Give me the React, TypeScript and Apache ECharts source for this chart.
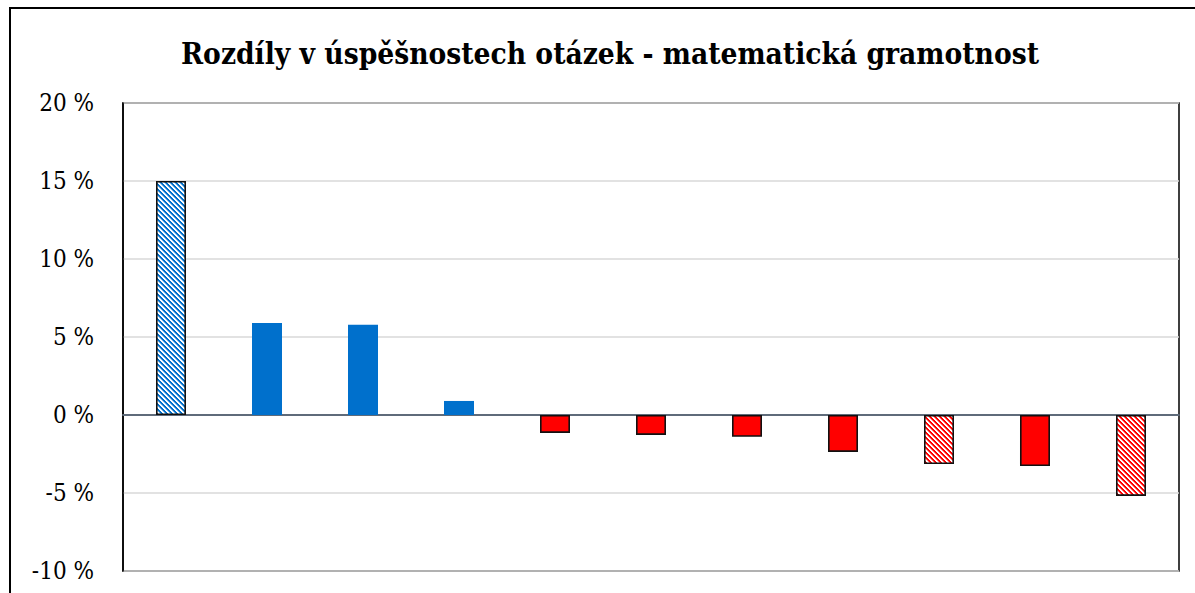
import React, { useEffect, useRef } from "react";
import * as echarts from "echarts";

const categories = ["1", "2", "3", "4", "5", "6", "7", "8", "9", "10", "11"];
const values = [15.0, 5.9, 5.78, 0.9, -1.15, -1.28, -1.4, -2.37, -3.14, -3.27, -5.19];
const hatched = [true, false, false, false, false, false, false, false, true, false, true];
const yMin = -10;
const yMax = 20;
const yStep = 5;
const titleText = "Rozdíly v úspěšnostech otázek - matematická gramotnost";

const BLUE = "#0070CC";
const RED = "#FF0000";
const SERIF = "'DejaVu Serif Condensed', 'DejaVu Serif', serif";

function hexToRgb(h: string) {
  const n = parseInt(h.slice(1), 16);
  return [(n >> 16) & 255, (n >> 8) & 255, n & 255];
}

function makePattern(color: string) {
  const s = 5;
  const c = document.createElement("canvas");
  c.width = s;
  c.height = s;
  const ctx = c.getContext("2d")!;
  const img = ctx.createImageData(s, s);
  const [r, g, b] = hexToRgb(color);
  for (let y = 0; y < s; y++) {
    for (let x = 0; x < s; x++) {
      const d = (((x - y) % s) + s) % s;
      const t = d < 2 ? 1 : d === 2 ? 0.45 : 0;
      const k = (y * s + x) * 4;
      img.data[k] = Math.round(r + (255 - r) * t);
      img.data[k + 1] = Math.round(g + (255 - g) * t);
      img.data[k + 2] = Math.round(b + (255 - b) * t);
      img.data[k + 3] = 255;
    }
  }
  ctx.putImageData(img, 0, 0);
  return c;
}

export default function App() {
  const ref = useRef<HTMLDivElement>(null);
  useEffect(() => {
    if (!ref.current) return;
    const chart = echarts.init(ref.current, undefined, { renderer: "svg" });
    const bluePat = makePattern(BLUE);
    const redPat = makePattern(RED);
    const data = values.map((v, i) => {
      const pos = v >= 0;
      const base = pos ? BLUE : RED;
      const pat = pos ? bluePat : redPat;
      const bordered = hatched[i] || !pos;
      return {
        value: v,
        itemStyle: {
          color: hatched[i] ? { image: pat, repeat: "repeat" } : base,
          borderColor: bordered ? "#111" : base,
          borderWidth: bordered ? 1.6 : 0,
        },
      };
    });
    chart.setOption({
      animation: false,
      backgroundColor: "#fff",
      title: {
        text: titleText,
        left: 605,
        top: 33,
        textAlign: "center",
        textStyle: {
          fontFamily: SERIF,
          fontWeight: "bold",
          fontSize: 29.6,
          color: "#000",
        },
      },
      graphic: [
        {
          type: "rect",
          shape: { x: 10, y: 8, width: 1300, height: 700 },
          style: { fill: "none", stroke: "#000", lineWidth: 2 },
          silent: true,
        },
      ],
      grid: {
        left: 123,
        top: 103,
        width: 1056,
        height: 468,
        show: true,
        borderColor: "#000",
        borderWidth: 1.5,
        backgroundColor: "transparent",
      },
      xAxis: {
        type: "category",
        data: categories,
        axisLabel: { show: false },
        axisTick: { show: false },
        axisLine: { show: true, onZero: true, lineStyle: { color: "#5f6b7a", width: 1.8 } },
        splitLine: { show: false },
      },
      yAxis: {
        type: "value",
        min: yMin,
        max: yMax,
        interval: yStep,
        axisLine: { show: true, lineStyle: { color: "#000", width: 1.5 } },
        axisTick: { show: false },
        axisLabel: {
          formatter: (v: number) => `${v} %`,
          fontFamily: SERIF,
          fontSize: 24,
          color: "#000",
          margin: 29,
        },
        splitLine: { show: true, lineStyle: { color: "#d9d9d9", width: 1.5 } },
      },
      series: [
        {
          type: "bar",
          data,
          barWidth: 30,
          z: 3,
        },
      ],
    });
    return () => chart.dispose();
  }, []);
  return (
    <div
      ref={ref}
      style={{ position: "fixed", left: 0, top: 0, width: 1195, height: 593 }}
    />
  );
}
